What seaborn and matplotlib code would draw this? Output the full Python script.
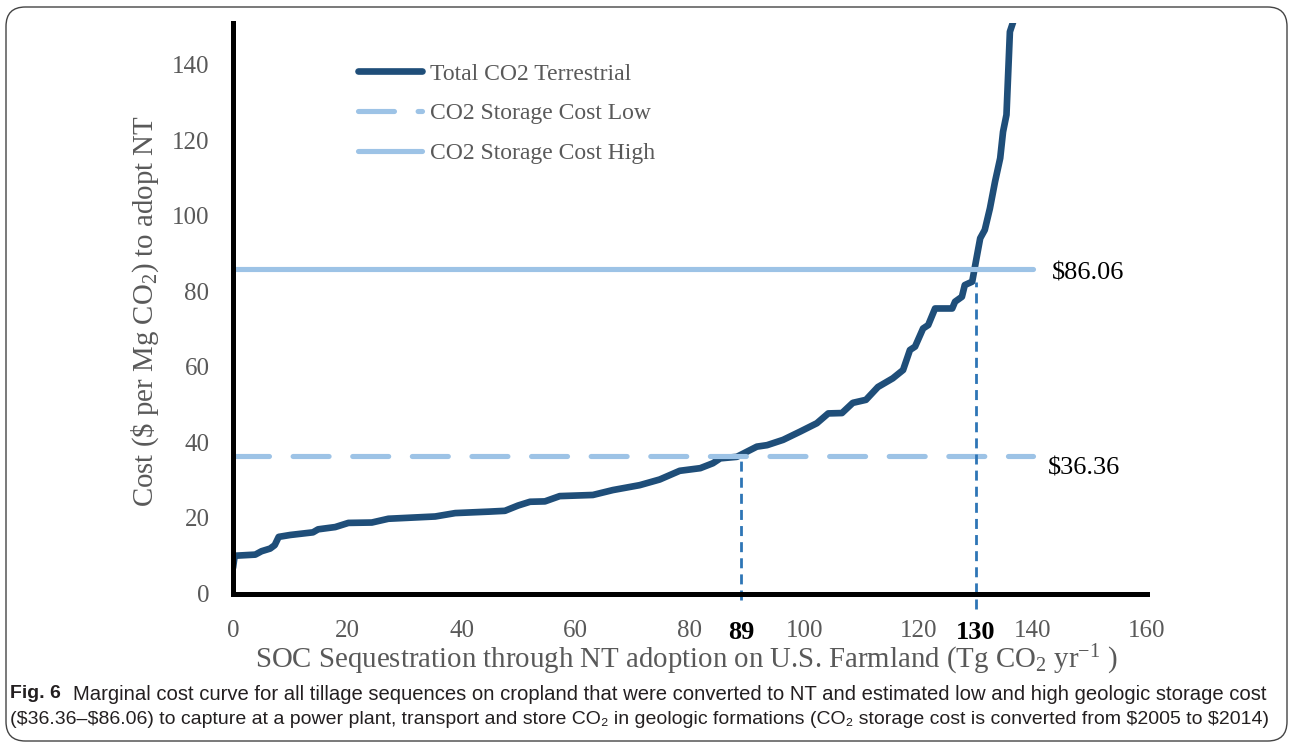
import matplotlib
matplotlib.use("Agg")
import matplotlib.pyplot as plt
from matplotlib.patches import FancyBboxPatch
import seaborn as sns
import pandas as pd

# ---------------- data ----------------
sequestration = [0, 0.3, 3.9, 5.0, 6.5, 7.3, 8.0, 10.0, 14.0, 14.9, 17.9, 20.2, 24.3,
                 27.2, 35.4, 38.9, 45.0, 47.6, 49.9, 52.0, 54.6, 57.2, 63.0, 66.5,
                 71.2, 74.7, 78.2, 81.8, 84.0, 85.3, 88.2, 91.7, 93.5, 96.3, 99.3,
                 102.2, 104.2, 106.6, 108.5, 110.8, 112.9, 115.5, 117.3, 118.5,
                 119.4, 120.8, 121.7, 122.9, 125.9, 126.4, 127.6, 128.1, 129.4,
                 130.2, 130.8, 131.6, 132.5, 133.4, 134.3, 134.8, 135.4, 136.0, 136.7]
cost = [6.8, 10.0, 10.3, 11.2, 11.9, 12.8, 15.0, 15.5, 16.2, 17.0, 17.6, 18.7, 18.8,
        19.8, 20.4, 21.3, 21.7, 21.9, 23.3, 24.3, 24.4, 25.8, 26.1, 27.4,
        28.7, 30.2, 32.5, 33.2, 34.5, 35.8, 36.2, 38.9, 39.3, 40.7, 42.9,
        45.1, 47.7, 47.8, 50.5, 51.3, 54.7, 57.0, 59.2, 64.5,
        65.4, 70.2, 71.1, 75.5, 75.5, 77.3, 78.6, 81.7, 82.6,
        89.2, 94.1, 96.3, 102.0, 109.1, 115.3, 122.3, 126.8, 148.8, 152.0]
storage_x = [0, 140]
storage_low = 36.36
storage_high = 86.06
series_names = ["Total CO2 Terrestrial", "CO2 Storage Cost Low", "CO2 Storage Cost High"]
guide_x = [89, 130]
guide_top = [35.5, 82.5]
guide_bottom = [-1.8, -4.0]
guide_labels = ["89", "130"]
x_ticks = [0, 20, 40, 60, 80, 100, 120, 140, 160]
y_ticks = [0, 20, 40, 60, 80, 100, 120, 140]

# ---------------- style ----------------
sns.set_theme(style="white")
plt.rcParams["font.family"] = ["Liberation Serif", "DejaVu Serif"]
plt.rcParams["mathtext.fontset"] = "custom"
plt.rcParams["mathtext.rm"] = "Liberation Serif"
plt.rcParams["mathtext.it"] = "Liberation Serif:italic"
plt.rcParams["mathtext.bf"] = "Liberation Serif:bold"

DARK = "#1f4e79"
LIGHT = "#9dc3e6"
GUIDE = "#2e75b6"
GRAY = "#595959"

W, H = 1290, 743
fig = plt.figure(figsize=(W / 100, H / 100), dpi=100)
ax = fig.add_axes([233 / W, 1 - 593.5 / H, (1147 - 233) / W, (593.5 - 22.7) / H])

df = pd.DataFrame({"x": sequestration, "y": cost})
sns.lineplot(data=df, x="x", y="y", ax=ax, sort=False, estimator=None,
             color=DARK, lw=4.8, solid_capstyle="round", solid_joinstyle="round",
             label=series_names[0], zorder=3)

ax.plot(storage_x, [storage_low] * 2, color=LIGHT, lw=3.7, dashes=(7, 4.6),
        dash_capstyle="round", label=series_names[1], zorder=4)
ax.plot(storage_x, [storage_high] * 2, color=LIGHT, lw=3.7,
        solid_capstyle="round", label=series_names[2], zorder=4)

for gx, gt, gb in zip(guide_x, guide_top, guide_bottom):
    ax.plot([gx, gx], [gb, gt], color=GUIDE, lw=2.0, dashes=(3.6, 2.2),
            clip_on=False, zorder=5)

ax.set_xlim(0, 160)
ax.set_ylim(0, 151.2)
ax.set_xticks(x_ticks)
ax.set_yticks(y_ticks)
ax.tick_params(axis="both", length=0, labelsize=18, labelcolor=GRAY)
ax.tick_params(axis="x", pad=19)
ax.tick_params(axis="y", pad=17)
ax.set_xlabel("")
ax.set_ylabel("")
for side in ["top", "right"]:
    ax.spines[side].set_visible(False)
for side in ["left", "bottom"]:
    ax.spines[side].set_color("black")
    ax.spines[side].set_linewidth(3.6)
    ax.spines[side].set_zorder(6)

# bold guide labels
for gx, gl in zip(guide_x, guide_labels):
    ax.annotate(gl, xy=(gx, 0), xycoords=("data", "axes fraction"),
                xytext=(0, -39), textcoords="offset pixels",
                ha="center", va="center", fontsize=19, fontweight="bold",
                color="black")

# price labels
ax.annotate(r"\$86.06", xy=(1052 / W, 1 - 273 / H), xycoords="figure fraction",
            ha="left", va="center", fontsize=19, color="black")
ax.annotate(r"\$36.36", xy=(1048 / W, 1 - 468 / H), xycoords="figure fraction",
            ha="left", va="center", fontsize=19, color="black")

# axis titles
fig.text(145 / W, 1 - 311 / H, r"Cost (\$ per Mg CO$_2$) to adopt NT",
         rotation=90, ha="center", va="center", fontsize=20.8, color=GRAY)
fig.text(686 / W, 1 - 660 / H,
         r"SOC Sequestration through NT adoption on U.S. Farmland (Tg CO$_2$ yr$^{-1}$ )",
         ha="center", va="center", fontsize=20.8, color=GRAY)

# legend
leg = ax.legend(loc="upper left", bbox_to_anchor=(358 / W, 1 - 63 / H),
                bbox_transform=fig.transFigure, frameon=False, fontsize=17,
                handlelength=2.7, handletextpad=0.35, labelspacing=0.78,
                borderaxespad=0, borderpad=0)
for t in leg.get_texts():
    t.set_color(GRAY)

# caption
cap_font = ["Liberation Sans", "DejaVu Sans"]
CAP = "#231f20"
fig.text(10 / W, 1 - 694 / H, "Fig. 6", ha="left", va="center", fontsize=14,
         fontweight="bold", family=cap_font, color=CAP)
fig.text(73 / W, 1 - 694 / H,
         "Marginal cost curve for all tillage sequences on cropland that were converted to NT "
         "and estimated low and high geologic storage cost",
         ha="left", va="center", fontsize=14.6, family=cap_font, color=CAP)
fig.text(10 / W, 1 - 719 / H,
         "(\\$36.36\u2013\\$86.06) to capture at a power plant, transport and store CO\u2082 in "
         "geologic formations (CO\u2082 storage cost is converted from \\$2005 to \\$2014)",
         ha="left", va="center", fontsize=14, family=cap_font, color=CAP)

# rounded frame
frame = FancyBboxPatch((6 / W, 2 / H), (1287 - 6) / W, (736 - 2) / H,
                       boxstyle="round,pad=0,rounding_size=0.015",
                       transform=fig.transFigure, fill=False,
                       edgecolor="#444444", lw=1.0, mutation_aspect=W / H)
fig.patches.append(frame)

fig.savefig("out.png", dpi=100)
